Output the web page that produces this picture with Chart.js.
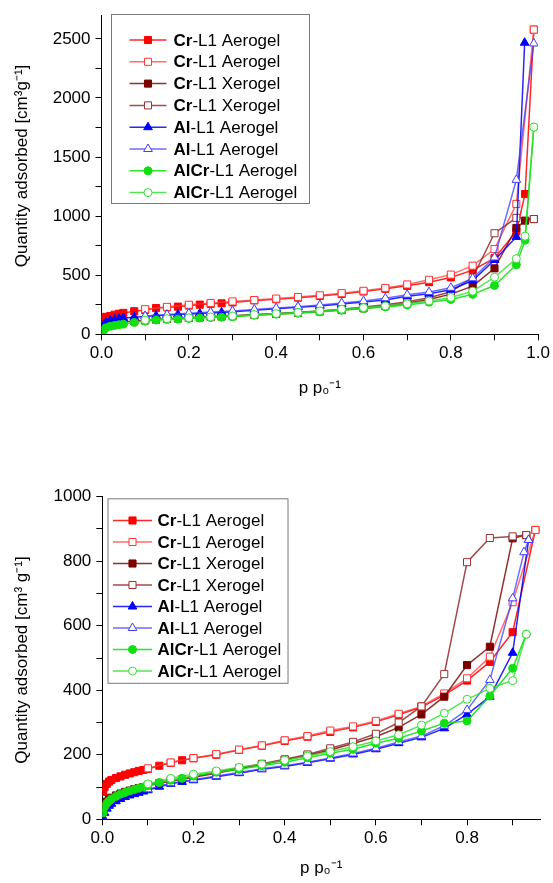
<!DOCTYPE html>
<html><head><meta charset="utf-8">
<script src="https://cdn.jsdelivr.net/npm/chart.js@4.4.0/dist/chart.umd.min.js"></script>
<style>
html,body{margin:0;padding:0;background:#fff;width:553px;height:883px;overflow:hidden}
#c1{position:absolute;left:0;top:0}
#c2{position:absolute;left:0;top:440px}
</style></head><body>
<canvas id="c1" width="553" height="430"></canvas>
<canvas id="c2" width="553" height="443"></canvas>
<script>
// ---------- legend labels ----------
const legendBold = ['Cr','Cr','Cr','Cr','Al','Al','AlCr','AlCr'];
const legendRest = ['-L1 Aerogel','-L1 Aerogel','-L1 Xerogel','-L1 Xerogel','-L1 Aerogel','-L1 Aerogel','-L1 Aerogel','-L1 Aerogel'];

// ---------- top panel data ----------
const topAdsP   = [0.005,0.01,0.02,0.03,0.04,0.05,0.075,0.1,0.125,0.15,0.175,0.2,0.225,0.25,0.275,0.3,0.35,0.4,0.45,0.5,0.55,0.6,0.65,0.7,0.75,0.8,0.85,0.9,0.95,0.97,0.99];
const topAlAdsP = [0.005,0.01,0.02,0.03,0.04,0.05,0.075,0.1,0.125,0.15,0.175,0.2,0.225,0.25,0.275,0.3,0.35,0.4,0.45,0.5,0.55,0.6,0.65,0.7,0.75,0.8,0.85,0.9,0.95,0.969];
const topDesP   = [0.99,0.95,0.9,0.85,0.8,0.75,0.7,0.65,0.6,0.55,0.5,0.45,0.4,0.35,0.3,0.25,0.2,0.15,0.1];
const topAlCrDesP = [0.99,0.97,0.95,0.9,0.85,0.8,0.75,0.7,0.65,0.6,0.55,0.5,0.45,0.4,0.35,0.3,0.25,0.2,0.15,0.1];

const topCrAeroAds  = [130,148,155,166,174,181,195,205,222,228,234,243,251,258,262,270,287,297,310,324,341,362,385,410,441,481,543,644,870,1187,2578];
const topCrAeroDes  = [2578,1103,721,581,505,461,422,392,368,348,330,315,302,290,278,265,250,232,212];
const topCrXeroAds  = [60,75,88,95,100,104,112,118,124,129,133,138,142,146,150,154,163,172,182,193,205,220,238,262,295,340,407,558,900,962,975];
const topCrXeroDes  = [975,985,855,480,360,310,275,250,230,212,198,186,176,167,158,150,141,131,120];
const topAlAeroAds  = [80,100,115,125,132,137,145,150,158,163,168,172,176,180,185,190,204,216,228,240,256,273,290,321,344,377,455,629,824,2467];
const topAlAeroDes  = [2461,1307,650,474,394,357,335,305,282,265,248,234,222,210,198,188,178,167,155];
const topAlCrAeroAds = [35,55,68,75,81,86,100,111,120,126,128,134,137,142,145,148,162,170,178,190,204,218,232,248,272,294,338,413,589,796,1752];
const topAlCrAeroDes = [1752,830,640,483,365,312,282,258,240,226,212,198,185,175,166,155,147,140,132,120];

// ---------- bottom panel data ----------
const botCrAeroAdsP = [0.002,0.005,0.01,0.015,0.02,0.03,0.04,0.05,0.06,0.07,0.08,0.09,0.1,0.125,0.15,0.175,0.2,0.25,0.3,0.35,0.4,0.45,0.5,0.55,0.6,0.65,0.7,0.75,0.8,0.85,0.9,0.95];
const botXeroAdsP   = [0.002,0.005,0.01,0.015,0.02,0.03,0.04,0.05,0.06,0.07,0.08,0.09,0.1,0.125,0.15,0.175,0.2,0.25,0.3,0.35,0.4,0.45,0.5,0.55,0.6,0.65,0.7,0.75,0.8,0.85,0.9,0.93];
const botAlAdsP     = [0.002,0.005,0.01,0.015,0.02,0.03,0.04,0.05,0.06,0.07,0.08,0.09,0.1,0.125,0.15,0.175,0.2,0.25,0.3,0.35,0.4,0.45,0.5,0.55,0.6,0.65,0.7,0.75,0.8,0.85,0.9,0.935];
const botCrAeroDesP = [0.95,0.9,0.85,0.8,0.75,0.7,0.65,0.6,0.55,0.5,0.45,0.4,0.35,0.3,0.25,0.2,0.15,0.1];
const botXeroDesP   = [0.93,0.9,0.85,0.8,0.75,0.7,0.65,0.6,0.55,0.5,0.45,0.4,0.35,0.3,0.25,0.2,0.15,0.1];
const botAlDesP     = [0.935,0.925,0.9,0.85,0.8,0.75,0.7,0.65,0.6,0.55,0.5,0.45,0.4,0.35,0.3,0.25,0.2,0.15,0.1];

const botCrAeroAds  = [85,100,110,117,122,128,133,138,142,146,150,153,156,166,175,183,189,200,215,228,243,256,271,285,302,324,348,385,430,488,580,897];
const botCrAeroDes  = [897,673,504,437,390,350,327,305,288,275,258,245,229,216,202,190,176,158];
const botCrXeroAds  = [30,45,55,62,67,74,80,85,89,93,97,100,104,112,118,124,130,143,157,170,184,198,215,235,256,285,325,380,478,535,871,881];
const botCrXeroDes  = [881,877,872,797,450,350,300,265,240,220,201,186,172,159,146,133,121,107];
const botAlAeroAds  = [5,20,33,42,48,56,63,69,74,78,82,86,90,101,110,116,121,132,143,155,164,175,188,201,217,236,254,282,325,380,516,866];
const botAlAeroDes  = [866,828,685,432,339,290,258,240,220,204,190,177,166,157,145,134,123,112,93];
const botAlCrAeroAds = [20,38,50,57,63,71,78,83,88,92,96,100,104,114,121,127,134,146,155,166,177,191,205,217,236,251,274,298,305,382,468,574];
const botAlCrAeroDes = [574,430,406,372,329,292,262,243,225,210,196,183,171,161,150,140,127,110];

// ---------- ticks (value positions) and tick labels ----------
const topYTicks  = [0,250,500,750,1000,1250,1500,1750,2000,2250,2500];
const topYLabels = [0,500,1000,1500,2000,2500];
const botYTicks  = [0,100,200,300,400,500,600,700,800,900,1000];
const botYLabels = [0,200,400,600,800,1000];
const topXTicks  = [0,0.1,0.2,0.3,0.4,0.5,0.6,0.7,0.8,0.9,1.0];
const topXLabels = ['0.0','0.2','0.4','0.6','0.8','1.0'];
const botXTicks  = [0,0.1,0.2,0.3,0.4,0.5,0.6,0.7,0.8,0.9];
const botXLabels = ['0.0','0.2','0.4','0.6','0.8'];

// ---------- styles ----------
const FONT = "'Liberation Sans', Arial, sans-serif";
const sty = [
  {c:'#FF0000', l:'rgba(255,0,0,0.85)',   s:'rect',     f:true,  r:5},
  {c:'#FF3535', l:'rgba(255,60,60,0.75)', s:'rect',     f:false, r:5},
  {c:'#7A0000', l:'rgba(128,10,10,0.85)', s:'rect',     f:true,  r:5},
  {c:'#993030', l:'rgba(140,30,30,0.8)',  s:'rect',     f:false, r:5},
  {c:'#0000FF', l:'rgba(0,0,255,0.85)',   s:'triangle', f:true,  r:5},
  {c:'#4040FF', l:'rgba(60,60,255,0.75)', s:'triangle', f:false, r:5},
  {c:'#10E010', l:'rgba(20,225,20,0.9)',  s:'circle',   f:true,  r:4},
  {c:'#30E030', l:'rgba(40,225,40,0.8)',  s:'circle',   f:false, r:4}
];

function pts(px, vy){ return px.map((p,i)=>({x:p, y:vy[i]})); }
function makeDatasets(series){
  return series.map((s,i)=>({
    label: legendBold[i] + legendRest[i],
    data: pts(s[0], s[1]),
    showLine: true,
    borderColor: sty[i].l,
    borderWidth: 1.5,
    pointStyle: sty[i].s,
    pointRadius: sty[i].r,
    pointBorderWidth: 1,
    pointBorderColor: sty[i].c,
    pointBackgroundColor: sty[i].f ? sty[i].c : '#FFFFFF',
    tension: 0,
    order: 8 - i
  }));
}

function drawMarker(ctx, shape, x, y, r, color, filled){
  ctx.save();
  ctx.beginPath();
  if (shape === 'rect'){ const s = r*Math.SQRT1_2; ctx.rect(x-s, y-s, 2*s, 2*s); }
  else if (shape === 'circle'){ ctx.arc(x, y, r, 0, Math.PI*2); }
  else {
    let a = 0;
    ctx.moveTo(x + Math.sin(a)*r, y - Math.cos(a)*r); a += 2*Math.PI/3;
    ctx.lineTo(x + Math.sin(a)*r, y - Math.cos(a)*r); a += 2*Math.PI/3;
    ctx.lineTo(x + Math.sin(a)*r, y - Math.cos(a)*r);
    ctx.closePath();
  }
  ctx.fillStyle = filled ? color : '#FFFFFF';
  ctx.fill();
  ctx.lineWidth = 1; ctx.strokeStyle = color; ctx.stroke();
  ctx.restore();
}

const boxLegend = {
  id: 'boxLegend',
  afterDraw(chart, args, o){
    const ctx = chart.ctx;
    ctx.save();
    ctx.fillStyle = '#FFFFFF';
    ctx.fillRect(o.left, o.top, o.width, o.height);
    ctx.strokeStyle = '#7a7a7a'; ctx.lineWidth = 1;
    ctx.strokeRect(o.left + 0.5, o.top + 0.5, o.width, o.height);
    for (let i = 0; i < 8; i++){
      const y = o.row0 + i*o.step;
      ctx.beginPath(); ctx.moveTo(o.l0, y); ctx.lineTo(o.l1, y);
      ctx.strokeStyle = sty[i].l; ctx.lineWidth = 1.5; ctx.stroke();
      drawMarker(ctx, sty[i].s, (o.l0+o.l1)/2, y, sty[i].r, sty[i].c, sty[i].f);
      ctx.fillStyle = '#000'; ctx.textBaseline = 'middle'; ctx.textAlign = 'left';
      ctx.font = 'bold 17px ' + FONT;
      ctx.fillText(legendBold[i], o.tx, y + 1);
      const w = ctx.measureText(legendBold[i]).width;
      ctx.font = '17px ' + FONT;
      ctx.fillText(legendRest[i], o.tx + w, y + 1);
    }
    ctx.restore();
  }
};

// y-axis title drawn as rotated text at a chosen centre
const yTitle = {
  id: 'yTitle',
  afterDraw(chart, args, o){
    const ctx = chart.ctx;
    ctx.save();
    ctx.translate(o.x, o.y);
    ctx.rotate(-Math.PI/2);
    ctx.fillStyle = '#000'; ctx.font = '17px ' + FONT;
    ctx.textAlign = 'center'; ctx.textBaseline = 'middle';
    ctx.fillText(o.text, 0, 0);
    ctx.restore();
  }
};

function makeChart(id, series, cfg){
  return new Chart(document.getElementById(id), {
    type: 'scatter',
    data: { datasets: makeDatasets(series) },
    plugins: [boxLegend, yTitle],
    options: {
      responsive: false, animation: false,
      layout: { padding: { left: 0, right: cfg.padRight, top: cfg.padTop, bottom: 0 } },
      plugins: { legend: { display: false }, tooltip: { enabled: false }, boxLegend: cfg.legend, yTitle: cfg.yTitle },
      scales: {
        x: {
          type: 'linear', min: 0, max: cfg.xMax,
          afterFit(s){ s.height = cfg.xHeight; },
          afterBuildTicks(s){ s.ticks = cfg.xTicks.map(v => ({ value: v })); },
          ticks: { padding: 3, color: '#000', font: { family: FONT, size: 17 }, maxRotation: 0, autoSkip: false,
                   callback(v){ const k = Math.round(v*10); return (k % 2 === 0) ? cfg.xLabels[k/2] : ''; } },
          grid: { drawOnChartArea: false, drawTicks: true, tickLength: 6, color: '#000' },
          border: { display: true, color: '#000', width: 1 },
          title: { display: true, text: 'p p\u2080\u207B\u00B9', color: '#000',
                   font: { family: FONT, size: 17 }, padding: { top: 0, bottom: cfg.xTitlePad } }
        },
        y: {
          type: 'linear', min: 0, max: cfg.yMax,
          afterFit(s){ s.width = cfg.yWidth; },
          afterBuildTicks(s){ s.ticks = cfg.yTicks.map(v => ({ value: v })); },
          ticks: { padding: 5, color: '#000', font: { family: FONT, size: 17 }, autoSkip: false,
                   callback(v){ return cfg.yLabels.includes(Math.round(v)) ? String(Math.round(v)) : ''; } },
          grid: { drawOnChartArea: false, drawTicks: true, tickLength: 6, color: '#000' },
          border: { display: true, color: '#000', width: 1 },
          title: { display: false }
        }
      }
    }
  });
}

makeChart('c1', [
  [topAdsP, topCrAeroAds], [topDesP, topCrAeroDes],
  [topAdsP, topCrXeroAds], [topDesP, topCrXeroDes],
  [topAlAdsP, topAlAeroAds], [topDesP, topAlAeroDes],
  [topAdsP, topAlCrAeroAds], [topAlCrDesP, topAlCrAeroDes]
], {
  xMax: 1.0, yMax: 2700, yTicks: topYTicks, yLabels: topYLabels, xTicks: topXTicks, xLabels: topXLabels,
  padTop: 12.7, padRight: 12.5, xHeight: 430 - 334.3, yWidth: 101.5, xTitlePad: 31.8,
  yTitle: { text: 'Quantity adsorbed [cm\u00B3g\u207B\u00B9]', x: 22, y: 166 },
  legend: { left: 111, top: 14, width: 198, height: 189, row0: 40, step: 21.8, l0: 129.5, l1: 166.5, tx: 173.5 }
});

makeChart('c2', [
  [botCrAeroAdsP, botCrAeroAds], [botCrAeroDesP, botCrAeroDes],
  [botXeroAdsP, botCrXeroAds], [botXeroDesP, botCrXeroDes],
  [botAlAdsP, botAlAeroAds], [botAlDesP, botAlAeroDes],
  [botXeroAdsP, botAlCrAeroAds], [botXeroDesP, botAlCrAeroDes]
], {
  xMax: 0.96, yMax: 1000, yTicks: botYTicks, yLabels: botYLabels, xTicks: botXTicks, xLabels: botXLabels,
  padTop: 56.7, padRight: 13, xHeight: 443 - 379.3, yWidth: 102.3, xTitlePad: 4.8,
  yTitle: { text: 'Quantity adsorbed [cm\u00B3 g\u207B\u00B9]', x: 22, y: 220 },
  legend: { left: 107.5, top: 58.3, width: 180, height: 184.5, row0: 80.5, step: 21.5, l0: 113, l1: 152, tx: 157.5 }
});
</script>
</body></html>
